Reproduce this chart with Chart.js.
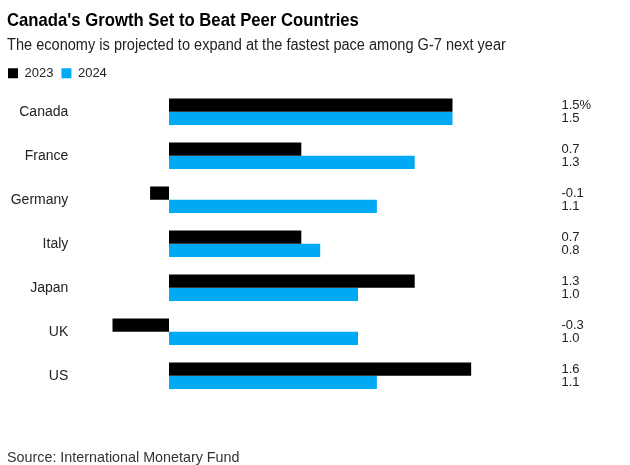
<!DOCTYPE html>
<html>
<head>
<meta charset="utf-8">
<script src="https://cdn.jsdelivr.net/npm/chart.js@4/dist/chart.umd.min.js"></script>
<style>
  body { margin: 0; background: #fff; font-family: "Liberation Sans", Arial, sans-serif; }
  #wrap { position: relative; width: 630px; height: 465px; overflow: hidden; }
  #chart { position: absolute; left: 0; top: 0; }
  .txt { position: absolute; left: 7px; white-space: nowrap; line-height: 1; transform-origin: 0 0; display: inline-block; }
  #title { top: 11px; font-size: 18.5px; font-weight: bold; color: #000; }
  #subtitle { top: 37px; font-size: 16px; color: #222; }
  #source { top: 449px; font-size: 15px; color: #333; }
</style>
</head>
<body>
<div id="wrap">
  <canvas id="chart" width="630" height="465"></canvas>
  <div class="txt" id="title" data-w="352">Canada's Growth Set to Beat Peer Countries</div>
  <div class="txt" id="subtitle" data-w="499">The economy is projected to expand at the fastest pace among G-7 next year</div>
  <div class="txt" id="source" data-w="232">Source: International Monetary Fund</div>
</div>
<script>
// --------------------
// Data
// --------------------
const countries = ["Canada", "France", "Germany", "Italy", "Japan", "UK", "US"];
const growth2023 = [1.5, 0.7, -0.1, 0.7, 1.3, -0.3, 1.6];
const growth2024 = [1.5, 1.3, 1.1, 0.8, 1.0, 1.0, 1.1];
const seriesNames = ["2023", "2024"];

// squeeze header text to the reference widths
document.querySelectorAll(".txt").forEach(el => {
    const w = +el.dataset.w;
    el.style.transform = `scaleX(${w / el.offsetWidth})`;
});

// value labels on the right
const valueLabels = {
    id: "valueLabels",
    afterDatasetsDraw(chart) {
        const ctx = chart.ctx;
        ctx.save();
        ctx.font = "13px 'Liberation Sans', Arial, sans-serif";
        ctx.fillStyle = "#222";
        ctx.textBaseline = "middle";
        ctx.textAlign = "left";
        chart.data.datasets.forEach((ds, di) => {
            const meta = chart.getDatasetMeta(di);
            meta.data.forEach((bar, i) => {
                let txt = ds.data[i].toFixed(1);
                if (di === 0 && i === 0) txt += "%";
                ctx.fillText(txt, chart.chartArea.right + 90, bar.y);
            });
        });
        ctx.restore();
    }
};

const chart = new Chart(document.getElementById("chart"), {
    type: "bar",
    data: {
        labels: countries,
        datasets: [
            { label: seriesNames[0], data: growth2023, backgroundColor: "#000000" },
            { label: seriesNames[1], data: growth2024, backgroundColor: "#00a9f4" }
        ]
    },
    options: {
        indexAxis: "y",
        responsive: false,
        animation: false,
        events: [],
        categoryPercentage: 0.6,
        barPercentage: 1.0,
        layout: { padding: { top: 52, left: 0, right: 158.6, bottom: 67.3 } },
        plugins: {
            title: { display: false },
            tooltip: { enabled: false },
            legend: {
                display: true,
                position: "top",
                align: "start",
                labels: {
                    boxWidth: 10,
                    boxHeight: 10,
                    padding: 8,
                    color: "#222",
                    font: { family: "'Liberation Sans', Arial, sans-serif", size: 13 }
                }
            }
        },
        scales: {
            x: {
                display: false,
                min: -0.3,
                max: 1.6
            },
            y: {
                grid: { display: false },
                border: { display: false },
                ticks: {
                    padding: 36,
                    color: "#222",
                    font: { family: "'Liberation Sans', Arial, sans-serif", size: 14 }
                },
                afterFit(scale) { scale.width = 112.3; }
            }
        }
    },
    plugins: [valueLabels]
});

// line the plot area up with the reference top edge
const diff = 89.7 - chart.chartArea.top;
chart.options.layout.padding.top += diff;
chart.update();
</script>
</body>
</html>
